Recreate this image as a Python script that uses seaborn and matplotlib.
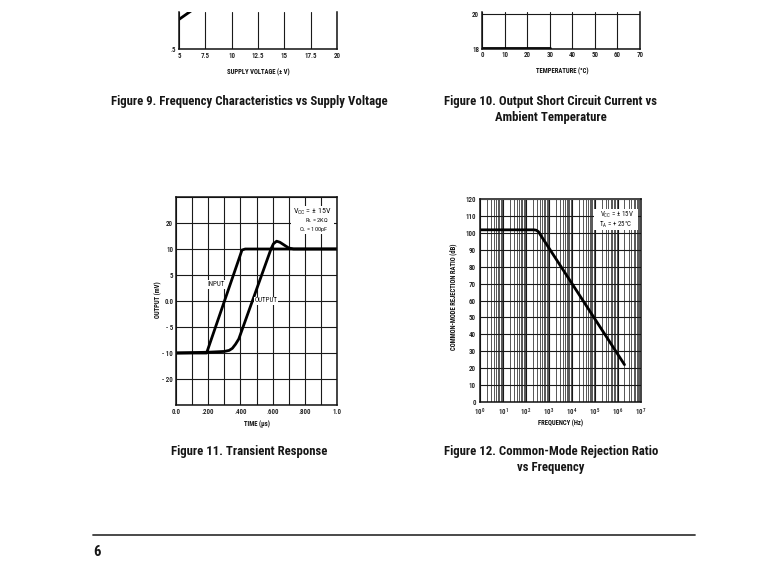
import numpy as np
import pandas as pd
import matplotlib
matplotlib.use("Agg")
import matplotlib.pyplot as plt
import seaborn as sns
from matplotlib.patches import Rectangle
from matplotlib.ticker import NullFormatter

# ---------------- data ----------------
# Figure 9: frequency characteristics vs supply voltage (only lower strip shown)
supply_v = [5.0, 6.0, 7.0]
freq_char = [0.82, 0.90, 0.98]
supply_ticks = [5, 7.5, 10, 12.5, 15, 17.5, 20]
supply_labels = ["5", "7.5", "10", "12.5", "15", "17.5", "20"]

# Figure 10: output short circuit current vs ambient temperature (lower strip)
temp_c = [0, 10, 20, 30]
short_current = [18.03, 18.03, 18.03, 18.03]
temp_ticks = [0, 10, 20, 30, 40, 50, 60, 70]

# Figure 11: transient response
in_time = [0.0, 0.19, 0.41, 0.43, 1.0]
in_mv = [-10.0, -10.0, 9.8, 10.0, 10.0]
out_time = [0.0, 0.20, 0.30, 0.33, 0.35, 0.37, 0.39, 0.575, 0.59, 0.605,
            0.625, 0.645, 0.67, 0.70, 0.73, 1.0]
out_mv = [-10.0, -9.85, -9.7, -9.5, -9.1, -8.3, -7.3, 8.7, 10.0, 11.0,
          11.5, 11.3, 10.8, 10.2, 10.0, 10.0]
time_ticks = [0.0, 0.1, 0.2, 0.3, 0.4, 0.5, 0.6, 0.7, 0.8, 0.9, 1.0]
time_labels = ["0.0", "", ".200", "", ".400", "", ".600", "", ".800", "", "1.0"]
mv_ticks = [-20, -15, -10, -5, 0, 5, 10, 15, 20]
mv_labels = ["", "- 20", "- 10", "- 5", "0.0", "5", "10", "20", ""]

# Figure 12: common-mode rejection ratio vs frequency
freq_hz = [1.0, 224.0, 282.0, 355.0, 447.0, 2.0e6]
cmrr_db = [102.0, 102.0, 101.8, 100.9, 98.7, 22.0]
cmrr_ticks = list(range(0, 121, 10))
decades = [1e0, 1e1, 1e2, 1e3, 1e4, 1e5, 1e6, 1e7]
decade_labels = [r"$\mathregular{10^{%d}}$" % k for k in range(8)]

# ---------------- styling ----------------
sns.set_theme(style="white")
plt.rcParams["font.family"] = ["Roboto Condensed", "DejaVu Sans"]
plt.rcParams["mathtext.default"] = "regular"

W, H = 768, 578
fig = plt.figure(figsize=(W / 100, H / 100), dpi=100)
fig.patch.set_facecolor("white")

INK = "#111111"
GRID = dict(color="#1a1a1a", linewidth=0.8)
CURVE = dict(color="black", linewidth=2.0)
TICK_FS = 5.0
LABEL_FS = 4.8
CAP_FS = 9.2


def px_axes(left, top, right, bottom):
    return fig.add_axes([left / W, 1 - bottom / H, (right - left) / W, (bottom - top) / H])


def fx(x):
    return x / W


def fy(y):
    return 1 - y / H


def frame(ax, hide_top=False):
    ax.set_facecolor("white")
    for name, sp in ax.spines.items():
        sp.set_color(INK)
        sp.set_linewidth(1.1)
    if hide_top:
        ax.spines["top"].set_visible(False)
    ax.tick_params(which="both", length=0, labelsize=TICK_FS, colors=INK, pad=2)
    for lab in ax.get_xticklabels() + ax.get_yticklabels():
        lab.set_fontweight("medium")


def axis_title(ax, which, text, x, y):
    if which == "x":
        ax.set_xlabel(text, fontsize=LABEL_FS, fontweight="bold", color=INK)
        ax.xaxis.set_label_coords(fx(x), fy(y), transform=fig.transFigure)
        ax.xaxis.label.set_va("center")
    else:
        ax.set_ylabel(text, fontsize=LABEL_FS, fontweight="bold", color=INK)
        ax.yaxis.set_label_coords(fx(x), fy(y), transform=fig.transFigure)
        ax.yaxis.label.set_va("center")


def caption(lines, x, y0, step=16):
    for i, line in enumerate(lines):
        fig.text(fx(x), fy(y0 + i * step), line, ha="center", va="center",
                 fontsize=CAP_FS, fontweight="bold", color="#161616")


# ---------------- Figure 9 ----------------
ax9 = px_axes(179, 12, 337, 49)
frame(ax9, hide_top=True)
sns.lineplot(x=supply_v, y=freq_char, ax=ax9, **CURVE)
ax9.set_xlim(5, 20)
ax9.set_ylim(0.5, 0.9)
ax9.set_xticks(supply_ticks)
ax9.set_xticklabels(supply_labels, fontweight="medium")
ax9.set_yticks([0.5])
ax9.set_yticklabels([".5"], fontweight="medium")
ax9.grid(axis="x", **GRID)
axis_title(ax9, "x", "SUPPLY VOLTAGE (± V)", 258, 72)
caption(["Figure 9. Frequency Characteristics vs Supply Voltage"], 249, 101)

# ---------------- Figure 10 ----------------
ax10 = px_axes(482, 12, 640, 48.5)
frame(ax10, hide_top=True)
sns.lineplot(x=temp_c, y=short_current, ax=ax10, **CURVE)
ax10.set_xlim(0, 70)
ax10.set_ylim(18, 20 + 2 * 2 / 34.5)
ax10.set_xticks(temp_ticks)
ax10.set_xticklabels([str(t) for t in temp_ticks], fontweight="medium")
ax10.set_yticks([18, 20])
ax10.set_yticklabels(["18", "20"], fontweight="medium")
ax10.grid(axis="both", **GRID)
axis_title(ax10, "x", "TEMPERATURE (°C)", 562, 71)
caption(["Figure 10. Output Short Circuit Current vs", "Ambient Temperature"], 551, 101)

# ---------------- Figure 11 ----------------
ax11 = px_axes(176, 197, 337, 405)
frame(ax11)
sns.lineplot(x=in_time, y=in_mv, ax=ax11, **CURVE)
sns.lineplot(x=out_time, y=out_mv, ax=ax11, **CURVE)
ax11.set_xlim(0, 1.0)
ax11.set_ylim(-20, 20)
ax11.set_xticks(time_ticks)
ax11.set_xticklabels(time_labels, fontweight="medium")
ax11.set_yticks(mv_ticks)
ax11.set_yticklabels(mv_labels, fontweight="medium")
ax11.grid(axis="both", **GRID)
ax11.set_axisbelow(True)
ax11.text(0.25, 3.2, "INPUT", fontsize=5.0, ha="center", va="center", color=INK,
          bbox=dict(facecolor="white", edgecolor="none", pad=0.5), zorder=5)
ax11.text(0.56, 0.0, "OUTPUT", fontsize=5.0, ha="center", va="center", color=INK,
          bbox=dict(facecolor="white", edgecolor="none", pad=0.5), zorder=5)
ax11.add_patch(Rectangle((fx(291), fy(234)), fx(334) - fx(291), (234 - 206) / H,
                         transform=fig.transFigure, facecolor="white", edgecolor="none", zorder=4))
fig.text(fx(312), fy(211.5), r"V$_{CC}$ = ± 15V", fontsize=5.8, ha="center", va="center", color=INK, zorder=6)
fig.text(fx(316.5), fy(221), r"R$_{L}$ = 2KΩ", fontsize=4.6, ha="center", va="center", color=INK, zorder=6)
fig.text(fx(314), fy(229.5), r"C$_{L}$ = 100pF", fontsize=4.6, ha="center", va="center", color=INK, zorder=6)
axis_title(ax11, "x", "TIME (µs)", 257, 424)
axis_title(ax11, "y", "OUTPUT (mV)", 158, 300)
caption(["Figure 11. Transient Response"], 249, 451)

# ---------------- Figure 12 ----------------
ax12 = px_axes(480, 199.5, 640.5, 401.7)
frame(ax12)
ax12.set_xscale("log")
sns.lineplot(x=freq_hz, y=cmrr_db, ax=ax12, **CURVE)
ax12.set_xlim(1, 1e7)
ax12.set_ylim(0, 120)
ax12.set_xticks(decades)
ax12.set_xticklabels(decade_labels)
minor_freqs = [d * s for d in decades[:-1] for s in range(2, 10)]
ax12.set_xticks(minor_freqs, minor=True)
ax12.xaxis.set_minor_formatter(NullFormatter())
ax12.set_yticks(cmrr_ticks)
ax12.set_yticklabels([str(v) for v in cmrr_ticks], fontweight="medium")
ax12.tick_params(axis="x", pad=3.5)
ax12.tick_params(axis="y", pad=3)
ax12.grid(which="major", axis="both", **GRID)
ax12.grid(which="minor", axis="x", color="#2a2a2a", linewidth=0.55)
ax12.set_axisbelow(True)
ax12.add_patch(Rectangle((fx(594), fy(230)), fx(638) - fx(594), (230 - 209.5) / H,
                         transform=fig.transFigure, facecolor="white", edgecolor="none", zorder=4))
fig.text(fx(616.5), fy(215), r"V$_{CC}$ = ± 15V", fontsize=5.0, ha="center", va="center", color=INK, zorder=6)
fig.text(fx(615.5), fy(225), r"T$_{A}$ = + 25°C", fontsize=5.0, ha="center", va="center", color=INK, zorder=6)
axis_title(ax12, "x", "FREQUENCY (Hz)", 561, 423)
axis_title(ax12, "y", "COMMON-MODE REJECTION RATIO (dB)", 453, 297)
caption(["Figure 12. Common-Mode Rejection Ratio", "vs Frequency"], 551, 451)

# ---------------- page furniture ----------------
fig.add_artist(plt.Line2D([fx(93), fx(695)], [fy(535), fy(535)], transform=fig.transFigure,
                          color="#3a3a3a", linewidth=1.3))
fig.text(fx(97), fy(552), "6", fontsize=10.5, fontweight="bold", ha="center", va="center", color="#161616")

fig.savefig("out.png", dpi=100, facecolor="white")
